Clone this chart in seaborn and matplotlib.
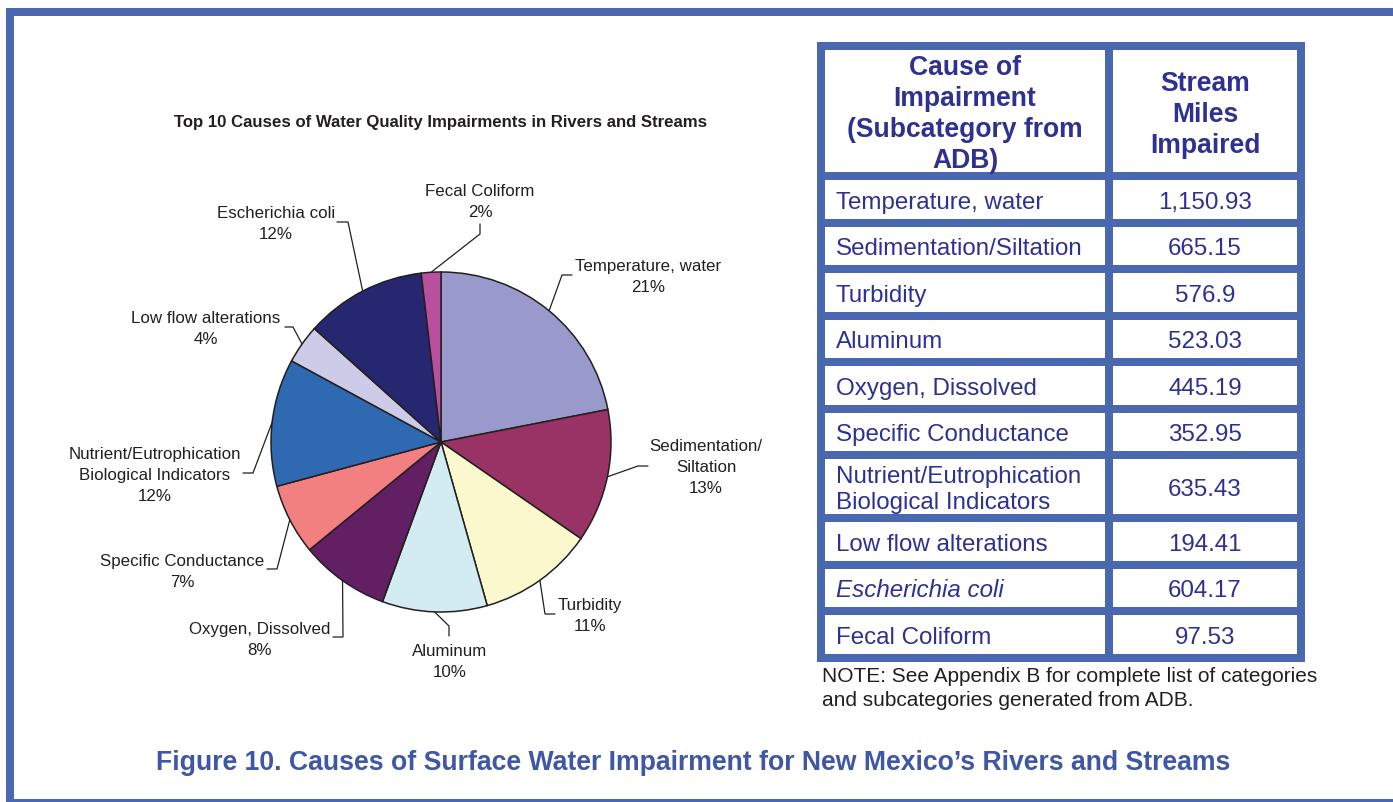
import matplotlib
matplotlib.use("Agg")
import matplotlib.pyplot as plt
from matplotlib.patches import Rectangle
import numpy as np
import seaborn as sns

# ---- data -------------------------------------------------------------
causes = ["Temperature, water", "Sedimentation/Siltation", "Turbidity", "Aluminum",
          "Oxygen, Dissolved", "Specific Conductance",
          "Nutrient/Eutrophication Biological Indicators", "Low flow alterations",
          "Escherichia coli", "Fecal Coliform"]
stream_miles = [1150.93, 665.15, 576.9, 523.03, 445.19, 352.95, 635.43, 194.41, 604.17, 97.53]
pct_labels = ["21%", "13%", "11%", "10%", "8%", "7%", "12%", "4%", "12%", "2%"]

pie_label_lines = [["Temperature, water"], ["Sedimentation/", "Siltation"], ["Turbidity"],
                   ["Aluminum"], ["Oxygen, Dissolved"], ["Specific Conductance"],
                   ["Nutrient/Eutrophication", "Biological Indicators"],
                   ["Low flow alterations"], ["Escherichia coli"], ["Fecal Coliform"]]
table_cause_lines = [["Temperature, water"], ["Sedimentation/Siltation"], ["Turbidity"],
                     ["Aluminum"], ["Oxygen, Dissolved"], ["Specific Conductance"],
                     ["Nutrient/Eutrophication", "Biological Indicators"],
                     ["Low flow alterations"], ["Escherichia coli"], ["Fecal Coliform"]]
italic_rows = ["Escherichia coli"]

header_left = ["Cause of", "Impairment", "(Subcategory from", "ADB)"]
header_right = ["Stream", "Miles", "Impaired"]

chart_title = "Top 10 Causes of Water Quality Impairments in Rivers and Streams"
caption = "Figure 10. Causes of Surface Water Impairment for New Mexico\u2019s Rivers and Streams"
note_lines = ["NOTE: See Appendix B for complete list of categories",
              "and subcategories generated from ADB."]

slice_colors = ["#9999CC", "#993366", "#FCF8CE", "#D3ECF2", "#621F63",
                "#F28080", "#2F69B1", "#CDCCE8", "#262671", "#B9509F"]

# ---- style ------------------------------------------------------------
sns.set_theme(style="white")
plt.rcParams["font.family"] = ["Liberation Sans", "DejaVu Sans"]

FRAME = "#4A68B0"
TABLE_TXT = "#2E3192"
CAPTION_TXT = "#3F57A5"
DARK = "#231F20"

W, H = 1393, 803
fig = plt.figure(figsize=(W / 100, H / 100), dpi=100)
ax = fig.add_axes([0, 0, 1, 1])

# ---- pie (pixel coordinates, y grows downward) -------------------------
cx, cy, R = 441, 443, 170
wedges, _ = ax.pie(stream_miles, colors=slice_colors, startangle=-90, counterclock=True,
                   center=(cx, cy), radius=R,
                   wedgeprops=dict(edgecolor=DARK, linewidth=1.1))
ax.set_aspect("auto")
ax.set_xlim(0, W)
ax.set_ylim(H, 0)
ax.axis("off")

# label centre x, first baseline y, leader start and elbow
label_layout = [
    (648, 271.5, (572, 276), (562, 276)),
    (706, 451.5, (648, 467), (638, 467)),
    (590, 610.5, (555, 615), (545, 615)),
    (449.5, 656.5, (449, 637), (449, 627)),
    (260, 634.3, (333, 638), (343, 638)),
    (182, 566, (267, 570), (277, 570)),
    (155, 459.3, (243, 474), (253, 474)),
    (205.5, 323, (285, 328), (293, 328)),
    (276, 218.3, (337, 223), (348, 223)),
    (480, 196, (480, 225), (480, 235)),
]
pitch = 20.7
for w, lines, pct, (tx, ty, p0, p1) in zip(wedges, pie_label_lines, pct_labels, label_layout):
    th = np.deg2rad((w.theta1 + w.theta2) / 2)
    ex, ey = w.center[0] + w.r * np.cos(th), w.center[1] + w.r * np.sin(th)
    ax.plot([p0[0], p1[0], ex], [p0[1], p1[1], ey], color=DARK, lw=0.9,
            solid_joinstyle="miter")
    for k, line in enumerate(lines + [pct]):
        ax.text(tx, ty + k * pitch, line, ha="center", va="baseline",
                fontsize=12.2, color=DARK)

ax.text(441, 127, chart_title, ha="center", va="baseline", fontsize=12.1,
        fontweight="bold", color=DARK)

# ---- outer frame -------------------------------------------------------
ax.add_patch(Rectangle((6, 9), W, 7.7, color=FRAME, lw=0))
ax.add_patch(Rectangle((6, 9), 8, H, color=FRAME, lw=0))
ax.add_patch(Rectangle((6, 800), W, 10, color=FRAME, lw=0))

# ---- table -------------------------------------------------------------
tx0, tx1 = 817, 1305
col_split = (1105, 1113)
border = 8
header_h = 122
row_h = 38.5
tall_row_h = 55
row_heights = [tall_row_h if len(c) > 1 else row_h for c in table_cause_lines]
table_top = 43
table_bottom = table_top + border + header_h + sum(h + border for h in row_heights) + border
ax.add_patch(Rectangle((tx0, table_top), tx1 - tx0, table_bottom - table_top,
                       color=FRAME, lw=0))

def cells(top, h):
    ax.add_patch(Rectangle((tx0 + border, top), col_split[0] - tx0 - border, h,
                           color="white", lw=0))
    ax.add_patch(Rectangle((col_split[1], top), tx1 - border - col_split[1], h,
                           color="white", lw=0))

y = table_top + border
cells(y, header_h)
for k, line in enumerate(header_left):
    ax.text(965, y + 24 + k * 31, line, ha="center", va="baseline", fontsize=19.1,
            fontweight="bold", color=TABLE_TXT)
for k, line in enumerate(header_right):
    ax.text(1205, y + 40 + k * 31, line, ha="center", va="baseline", fontsize=19.1,
            fontweight="bold", color=TABLE_TXT)
y += header_h + border

for lines, miles, h in zip(table_cause_lines, stream_miles, row_heights):
    cells(y, h)
    mid = y + h / 2
    style = "italic" if lines[0] in italic_rows else "normal"
    n = len(lines)
    for k, line in enumerate(lines):
        base = mid + 8.4 + (k - (n - 1) / 2) * 25.6
        ax.text(836, base, line, ha="left", va="baseline", fontsize=17.4,
                fontstyle=style, color=TABLE_TXT)
    ax.text(1205, mid + 8.4, f"{miles:,}", ha="center", va="baseline",
            fontsize=17.4, color=TABLE_TXT)
    y += h + border

for k, line in enumerate(note_lines):
    ax.text(822, 682.5 + k * 23.3, line, ha="left", va="baseline", fontsize=15,
            color=DARK)

ax.text(693, 770, caption, ha="center", va="baseline", fontsize=19.2,
        fontweight="bold", color=CAPTION_TXT)

fig.savefig("out.png", dpi=100, facecolor="white")
